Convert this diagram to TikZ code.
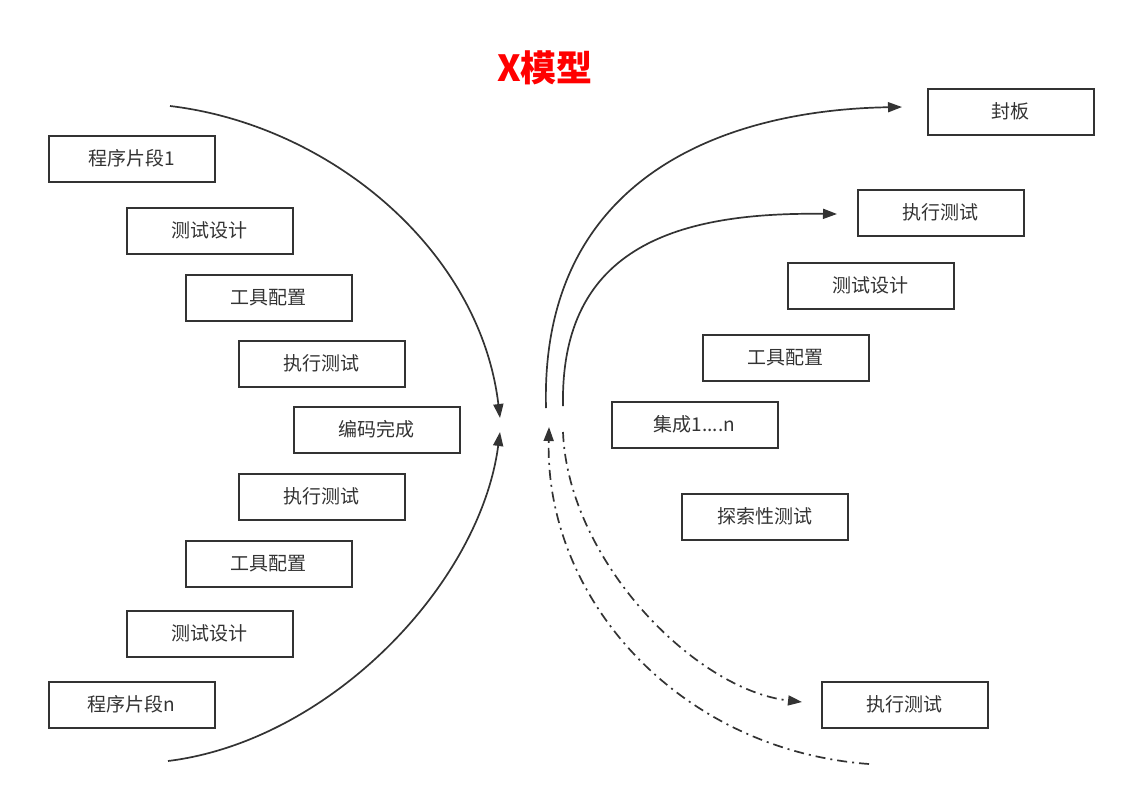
\documentclass[tikz,border=0pt]{standalone}
\usepackage{fontspec}
\setmainfont{Noto Sans CJK SC}
\usetikzlibrary{arrows.meta}
\definecolor{inkgray}{HTML}{333333}
\definecolor{titlered}{HTML}{FF0000}
\begin{document}
\begin{tikzpicture}[x=1pt,y=-1pt,
	box/.style={draw=inkgray,line width=2pt,minimum width=166pt,minimum height=46pt,inner sep=0pt,text=inkgray,font=\fontsize{19}{22}\selectfont},
	conn/.style={inkgray,line width=1.7pt,-{Triangle[length=14pt,width=10pt]}},
	ddot/.style={conn,dash pattern=on 10pt off 5pt on 2pt off 5pt}]
	\useasboundingbox (0,0) rectangle (1126,796);
	\node[text=titlered,font=\fontsize{36}{40}\selectfont\bfseries] (title) at (545,68) {X模型};
	% left side
	\node[box] (seg1) at (131.5,158.5) {程序片段1};
	\node[box] (designA) at (209.5,230.5) {测试设计};
	\node[box] (toolA) at (268.5,297.5) {工具配置};
	\node[box] (execA) at (321.5,363.5) {执行测试};
	\node[box] (code) at (376.5,429.5) {编码完成};
	\node[box] (execB) at (321.5,496.5) {执行测试};
	\node[box] (toolB) at (268.5,563.5) {工具配置};
	\node[box] (designB) at (209.5,633.5) {测试设计};
	\node[box] (segn) at (131.5,704.5) {程序片段n};
	% right side
	\node[box] (seal) at (1010.5,111.5) {封板};
	\node[box] (execC) at (940.5,212.5) {执行测试};
	\node[box] (designC) at (870.5,285.5) {测试设计};
	\node[box] (toolC) at (785.5,357.5) {工具配置};
	\node[box] (integ) at (694.5,424.5) {集成1....n};
	\node[box] (explore) at (764.5,516.5) {探索性测试};
	\node[box] (execD) at (904.5,704.5) {执行测试};
	% curve ends
	\coordinate (ltop) at (170,106);
	\coordinate (lbot) at (168,761);
	\coordinate (cin) at (500,418);
	\coordinate (cinb) at (500,432);
	\coordinate (rout) at (546,408);
	\coordinate (rin) at (563,406);
	\coordinate (rinb) at (563,432);
	\coordinate (routb) at (549,427);
	\coordinate (rend) at (869,764);
	\coordinate (sealin) at (902,107);
	\coordinate (execin) at (837,214);
	\coordinate (execDin) at (802,702);
	% curves
	\draw[conn] (ltop) .. controls (330,125) and (480,250) .. (cin);
	\draw[conn] (lbot) .. controls (330,741) and (480,584) .. (cinb);
	\draw[conn] (rout) .. controls (540,180) and (720,110) .. (sealin);
	\draw[conn] (rin) .. controls (560,245) and (680,212) .. (execin);
	\draw[ddot] (rinb) .. controls (568,560) and (695,690) .. (execDin);
	\draw[ddot] (rend) .. controls (680,750) and (545,600) .. (routb);
\end{tikzpicture}
\end{document}
